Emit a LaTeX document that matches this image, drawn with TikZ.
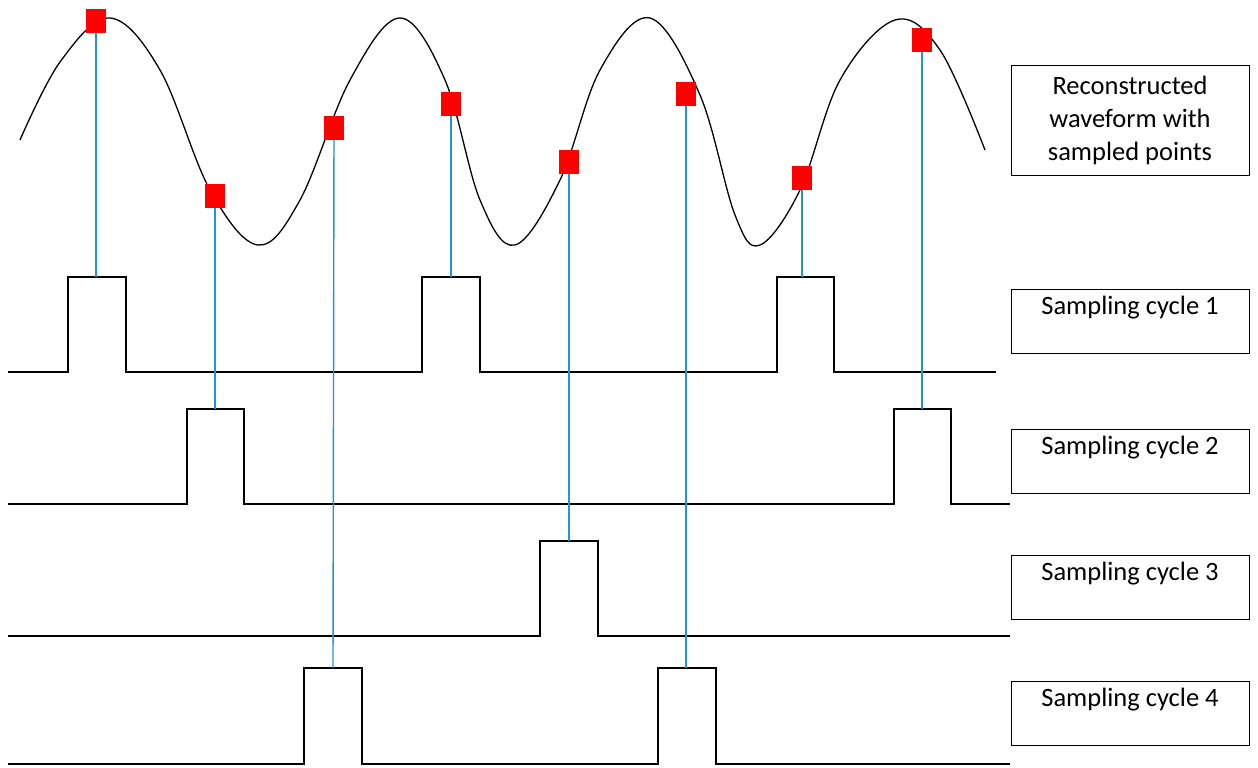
\documentclass[tikz,border=0pt]{standalone}
\usepackage{fontspec}
\setmainfont{Carlito}
\begin{document}
\begin{tikzpicture}[x=1pt,y=-1pt,
  sig/.style={black,line width=1.3pt},
  samp/.style={draw=none,fill=red,minimum width=20pt,minimum height=24pt,inner sep=0},
  vline/.style={color={rgb,255:red,30;green,150;blue,215},line width=1.4pt},
  lbl/.style={draw,line width=0.8pt,minimum width=238pt,inner sep=0},
  txt/.style={font=\fontsize{26.5}{33}\selectfont,align=center,inner sep=0}]
\useasboundingbox (0,0) rectangle (1258,768);
\fill[white] (0,0) rectangle (1258,768);
% waveform
\draw[sig] plot[smooth,tension=0.6] coordinates {(20,140) (60,62) (110,18) (160,70) (210,190) (258,245) (300,200) (350,80) (400,18) (445,80) (480,200) (515,245) (560,180) (600,70) (650,18) (700,95) (735,215) (760,245) (800,190) (840,80) (895,20) (940,50) (985,150)};
% sample squares
\node[samp] (s1) at (96,21) {};
\node[samp] (s2) at (215,196) {};
\node[samp] (s3) at (334,128) {};
\node[samp] (s4) at (451,104) {};
\node[samp] (s5) at (569,162) {};
\node[samp] (s6) at (686,94) {};
\node[samp] (s7) at (802,178) {};
\node[samp] (s8) at (922,40) {};
% pulse trains
\draw[sig] (8,372) -- (68,372) -- (68,277) -- (126,277) -- (126,372) -- (422,372) -- (422,277) -- (480,277) -- (480,372) -- (777,372) -- (777,277) -- (834,277) -- (834,372) -- (996,372);
\draw[sig] (8,504) -- (187,504) -- (187,409) -- (244,409) -- (244,504) -- (894,504) -- (894,409) -- (951,409) -- (951,504) -- (1010,504);
\draw[sig] (8,636) -- (540,636) -- (540,541) -- (598,541) -- (598,636) -- (1010,636);
\draw[sig] (8,764) -- (304,764) -- (304,668) -- (362,668) -- (362,764) -- (658,764) -- (658,668) -- (716,668) -- (716,764) -- (1010,764);
\coordinate (p1) at (96,277);
\coordinate (p2) at (215,409);
\coordinate (p3) at (333,668);
\coordinate (p4) at (451,277);
\coordinate (p5) at (569,541);
\coordinate (p6) at (686,668);
\coordinate (p7) at (802,277);
\coordinate (p8) at (922,409);
\foreach \i in {1,...,8}{\draw[vline] (s\i.center) -- (p\i);}
\foreach \i in {1,...,8}{\node[samp] at (s\i) {};}
% labels
\node[lbl,minimum height=110pt] (l0) at (1130,120) {};
\node[txt] at (l0.center) {Reconstructed\\waveform with\\sampled points};
\foreach \i/\y in {1/289,2/429,3/555,4/681}{
  \node[lbl,minimum height=64pt,anchor=north] (l\i) at (1130,\y) {};
  \node[txt,anchor=north] at ([yshift=-7pt]l\i.north) {Sampling cycle \i};
}
\end{tikzpicture}
\end{document}
